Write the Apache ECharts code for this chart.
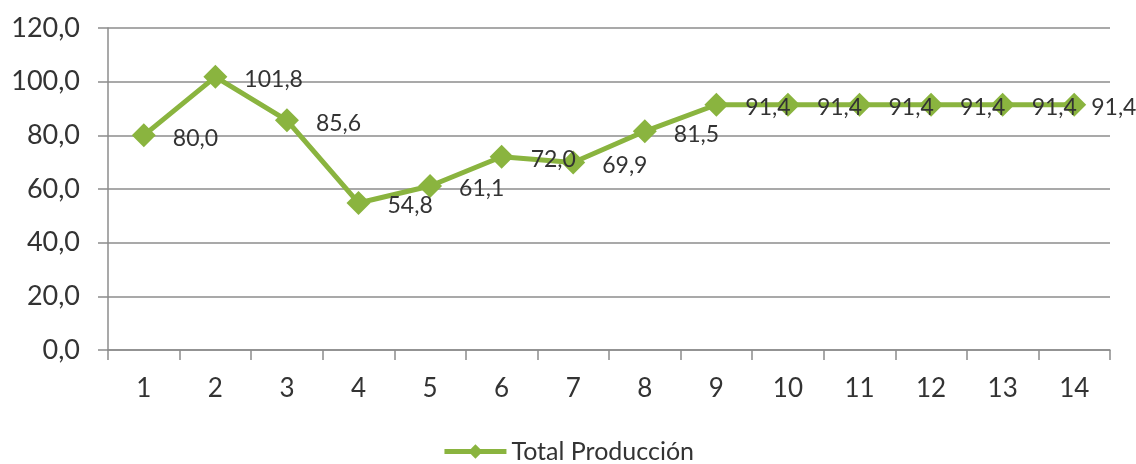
<!DOCTYPE html>
<html><head><meta charset="utf-8">
<script src="https://cdn.jsdelivr.net/npm/echarts@6/dist/echarts.min.js"></script>
<style>html,body{margin:0;padding:0;background:#fff}#c{width:1136px;height:464px}</style>
</head><body><div id="c"></div>
<script>
const categories = ['1','2','3','4','5','6','7','8','9','10','11','12','13','14'];
const totalProduccion = [80.0, 101.8, 85.6, 54.8, 61.1, 72.0, 69.9, 81.5, 91.4, 91.4, 91.4, 91.4, 91.4, 91.4];
const seriesName = 'Total Producción';
const yMin = 0, yMax = 120, yStep = 20;

const fmt = v => Number(v).toFixed(1).replace('.', ',');
const green = '#8ab43f';
const txt = '#333333';
const font = 'Lato';

const seriesData = totalProduccion.map((v, i) =>
  i === totalProduccion.length - 1 ? {value: v, label: {distance: 5}} : v);

const chart = echarts.init(document.getElementById('c'), null, {renderer: 'canvas'});
chart.setOption({
  animation: false,
  backgroundColor: '#fff',
  grid: {left: 108, right: 26, top: 28, bottom: 114, containLabel: false},
  legend: {
    data: [seriesName], bottom: 0, left: 'center',
    itemWidth: 62, itemHeight: 18, itemGap: 4,
    lineStyle: {width: 5},
    textStyle: {fontFamily: font, fontSize: 25, color: txt},
    padding: [0,0,0,0]
  },
  xAxis: {
    type: 'category', data: categories, boundaryGap: true,
    axisLine: {lineStyle: {color: '#8c8c8c', width: 1.5}},
    axisTick: {show: true, length: 10, lineStyle: {color: '#8c8c8c', width: 1.5}},
    axisLabel: {fontFamily: font, fontSize: 26, color: txt, margin: 26}
  },
  yAxis: {
    type: 'value', min: yMin, max: yMax, interval: yStep,
    axisLine: {show: true, lineStyle: {color: '#8c8c8c', width: 1.5}},
    axisTick: {show: true, length: 10, lineStyle: {color: '#8c8c8c', width: 1.5}},
    splitLine: {lineStyle: {color: '#8c8c8c', width: 1.5}},
    axisLabel: {fontFamily: font, fontSize: 27, color: txt, margin: 28, formatter: v => fmt(v)}
  },
  series: [{
    name: seriesName, type: 'line', data: seriesData,
    symbol: 'diamond', symbolSize: 24,
    lineStyle: {color: green, width: 5},
    itemStyle: {color: green},
    label: {show: true, position: 'right', distance: 17, offset: [0, 3],
      fontFamily: font, fontSize: 23, color: txt, formatter: p => fmt(p.value)}
  }]
});
</script></body></html>
